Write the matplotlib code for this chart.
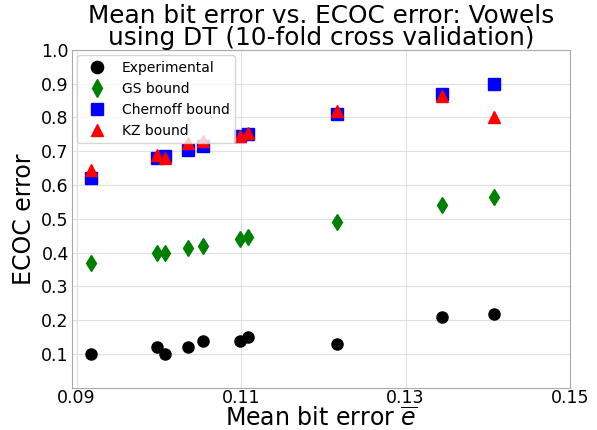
import numpy as np
import matplotlib.pyplot as plt

mean_bit_error = [0.0917, 0.0998, 0.1008, 0.1035, 0.1054, 0.1099, 0.1108, 0.1217, 0.1344, 0.1407]
experimental = [0.10, 0.12, 0.10, 0.12, 0.14, 0.14, 0.15, 0.13, 0.21, 0.22]
gs_bound = [0.37, 0.40, 0.40, 0.415, 0.42, 0.44, 0.445, 0.49, 0.54, 0.565]
chernoff_bound = [0.62, 0.68, 0.685, 0.705, 0.715, 0.745, 0.75, 0.81, 0.87, 0.90]
kz_bound = [0.645, 0.69, 0.68, 0.725, 0.73, 0.745, 0.755, 0.82, 0.865, 0.80]

fig, ax = plt.subplots(figsize=(5.97, 4.3), dpi=100)
ax.plot(mean_bit_error, experimental, "o", color="black", ms=8, label="Experimental")
ax.plot(mean_bit_error, gs_bound, "d", color="green", ms=8, label="GS bound")
ax.plot(mean_bit_error, chernoff_bound, "s", color="blue", ms=8, label="Chernoff bound")
ax.plot(mean_bit_error, kz_bound, "^", color="red", ms=8, label="KZ bound")

ax.set_xlim(0.0894, 0.15)
ax.set_ylim(0.0, 1.0)
ax.set_xticks([0.09, 0.11, 0.13, 0.15])
ax.set_yticks(np.arange(0.1, 1.01, 0.1))
ax.tick_params(labelsize=12.5, length=0, pad=2)
ax.tick_params(axis="x", pad=1)
ax.grid(True, color="#e0e0e0", linewidth=0.8)
ax.set_axisbelow(True)
for s in ax.spines.values():
    s.set_color("#aaaaaa")

ax.set_xlabel(r"Mean bit error $\overline{e}$", fontsize=17)
ax.xaxis.set_label_coords(0.5, -0.056)
ax.set_ylabel("ECOC error", fontsize=17)
ax.set_title("Mean bit error vs. ECOC error: Vowels\nusing DT (10-fold cross validation)", fontsize=17.8, pad=2, linespacing=0.88)
ax.legend(loc="upper left", fontsize=10, markerscale=1.1, borderaxespad=0.4)

fig.subplots_adjust(left=0.12, right=0.955, top=0.884, bottom=0.098)
plt.savefig("out.png", dpi=100)
